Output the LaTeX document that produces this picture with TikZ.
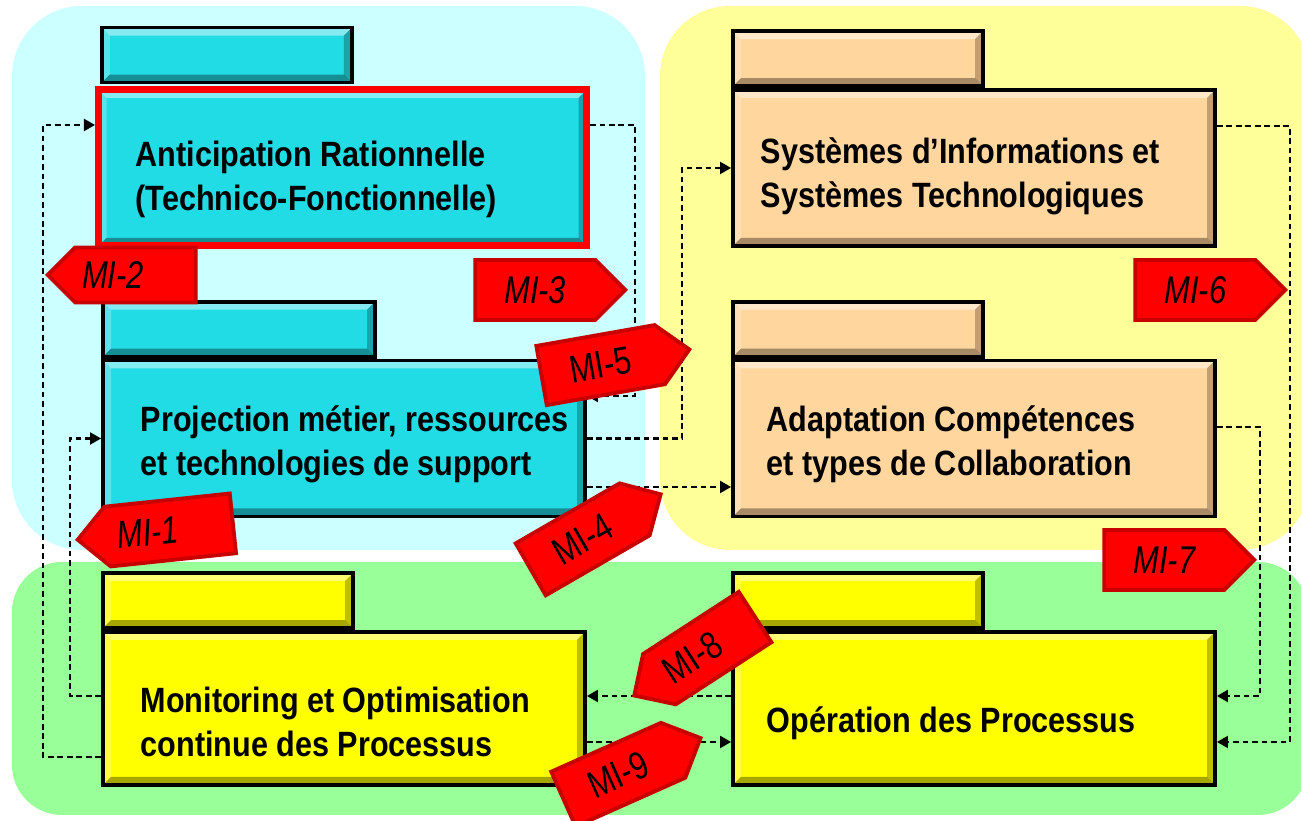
\documentclass[tikz,border=0pt]{standalone}
\usepackage{fontspec}
\setmainfont{Liberation Sans}
\newfontfamily\narrowfont{Liberation Sans}[FakeStretch=0.87]
\newfontfamily\mifont{Liberation Sans}[FakeStretch=0.8]
\usetikzlibrary{positioning,shapes.arrows,arrows.meta}
\definecolor{bgCyan}{RGB}{204,255,255}
\definecolor{bgYellow}{RGB}{255,255,153}
\definecolor{bgGreen}{RGB}{153,255,153}
\definecolor{boxCyan}{RGB}{33,220,228}
\definecolor{boxPeach}{RGB}{255,214,158}
\definecolor{boxYellow}{RGB}{255,255,0}
\definecolor{miRed}{RGB}{255,0,0}
\definecolor{miDark}{RGB}{200,0,0}
\begin{document}
\begin{tikzpicture}[
  bevel/.style={path picture={
    \fill[white,opacity=.45] (path picture bounding box.north west) -- (path picture bounding box.north east)
      -- ([shift={(-.8mm,-.8mm)}]path picture bounding box.north east) -- ([shift={(.8mm,-.8mm)}]path picture bounding box.north west) -- cycle;
    \fill[white,opacity=.25] (path picture bounding box.north west) -- (path picture bounding box.south west)
      -- ([shift={(.8mm,.8mm)}]path picture bounding box.south west) -- ([shift={(.8mm,-.8mm)}]path picture bounding box.north west) -- cycle;
    \fill[black,opacity=.35] (path picture bounding box.south west) -- (path picture bounding box.south east)
      -- ([shift={(-.8mm,.8mm)}]path picture bounding box.south east) -- ([shift={(.8mm,.8mm)}]path picture bounding box.south west) -- cycle;
    \fill[black,opacity=.25] (path picture bounding box.north east) -- (path picture bounding box.south east)
      -- ([shift={(-.8mm,.8mm)}]path picture bounding box.south east) -- ([shift={(-.8mm,-.8mm)}]path picture bounding box.north east) -- cycle;}},
  folder/.style={draw=black, line width=1.1pt, minimum width=4.82cm, minimum height=1.56cm, inner sep=0pt, bevel},
  tab/.style={draw=black, line width=1.1pt, minimum width=2.5cm, minimum height=0.55cm, inner sep=0pt, anchor=south west, bevel},
  boxtxt/.style={anchor=west, align=left, inner sep=0pt, font=\narrowfont\bfseries\fontsize{10}{12.5}\selectfont},
  link/.style={dash pattern=on 1.6pt off 1.1pt, line width=0.6pt, -{Triangle[length=1.1mm,width=1.2mm]}},
  mi/.style={single arrow, single arrow head extend=0pt, single arrow tip angle=90, fill=miRed, draw=miDark,
    line width=1.1pt, minimum height=1.5cm, minimum width=0.6cm, inner sep=1pt, anchor=tip,
    font=\mifont\fontsize{11}{12}\selectfont},
  left/.style={shape border rotate=180}
]
\useasboundingbox (0,0) rectangle (13.01,8.21);
\clip (0,0) rectangle (13.01,8.21);

\fill[bgCyan, rounded corners=0.7cm] (0.12,2.71) rectangle (6.45,8.15);
\fill[bgYellow, rounded corners=0.7cm] (6.60,2.71) rectangle (13.10,8.15);
\fill[bgGreen, rounded corners=0.5cm] (0.12,0.06) rectangle (13.08,2.59);

% left column
\node[folder, fill=boxCyan, draw=miRed, line width=2pt, minimum width=4.88cm] (ant) at (3.425,6.53) {};
\node[tab, fill=boxCyan] (antTab) at ([xshift=0.5mm,yshift=0.2mm]ant.north west) {};
\node[boxtxt] (antTxt) at ([xshift=4mm,yshift=-1.1mm]ant.west) {Anticipation Rationnelle\\(Technico-Fonctionnelle)};

\node[folder, fill=boxCyan] (proj) at (3.44,3.825) {};
\node[tab, fill=boxCyan, minimum width=2.72cm] (projTab) at (proj.north west) {};
\node[boxtxt] (projTxt) at ([xshift=3.9mm,yshift=-0.6mm]proj.west) {Projection métier, ressources\\et technologies de support};

\node[folder, fill=boxYellow, minimum height=1.53cm] (moni) at (3.44,1.125) {};
\node[tab, fill=boxYellow] (moniTab) at (moni.north west) {};
\node[boxtxt] (moniTxt) at ([xshift=3.9mm,yshift=-1.35mm]moni.west) {Monitoring et Optimisation\\continue des Processus};

% right column
\node[folder, fill=boxPeach] (sys) at (9.74,6.53) {};
\node[tab, fill=boxPeach] (sysTab) at (sys.north west) {};
\node[boxtxt] (sysTxt) at ([xshift=2.9mm,yshift=-0.8mm]sys.west) {Systèmes d’Informations et\\Systèmes Technologiques};

\node[folder, fill=boxPeach] (adap) at (9.74,3.825) {};
\node[tab, fill=boxPeach] (adapTab) at (adap.north west) {};
\node[boxtxt] (adapTxt) at ([xshift=3.5mm,yshift=-0.6mm]adap.west) {Adaptation Compétences\\et types de Collaboration};

\node[folder, fill=boxYellow, minimum height=1.53cm] (oper) at (9.74,1.125) {};
\node[tab, fill=boxYellow] (operTab) at (oper.north west) {};
\node[boxtxt] (operTxt) at ([xshift=3.5mm,yshift=-1.45mm]oper.west) {Opération des Processus};

% links
\draw[link] ([yshift=-4.85mm]moni.west) -- ++(-0.58,0) |- ([yshift=4.3mm]ant.west);
\draw[link] ([yshift=1.25mm]moni.west) -- ++(-0.31,0) |- (proj.west);
\draw[link] ([yshift=4.3mm]ant.east) -- ++(0.45,0) |- ([yshift=4.25mm]proj.east);
\draw[link] (proj.east) -- ++(0.95,0) |- (sys.west);
\draw[link] ([yshift=-4.85mm]proj.east) -- ([yshift=-4.85mm]adap.west);
\draw[link] ([yshift=4.2mm]sys.east) -- ++(0.73,0) |- ([yshift=-3.35mm]oper.east);
\draw[link] ([yshift=1.15mm]adap.east) -- ++(0.43,0) |- ([yshift=1.25mm]oper.east);
\draw[link] ([yshift=1.25mm]oper.west) -- ([yshift=1.25mm]moni.east);
\draw[link] ([yshift=-3.35mm]moni.east) -- ([yshift=-3.35mm]oper.west);

% MI arrows
\node[mi, left, rotate=6, minimum height=1.56cm] (mi1) at (0.75,2.81) {\itshape MI-1\kern4.5mm};
\node[mi, left, minimum height=1.48cm, minimum width=0.55cm] (mi2) at (0.45,5.46) {\itshape MI-2\kern4.5mm};
\node[mi] (mi3) at (6.28,5.31) {\itshape MI-3};
\node[mi, rotate=30] (mi4) at (6.63,3.28) {MI-4};
\node[mi, rotate=10] (mi5) at (6.92,4.72) {MI-5};
\node[mi] (mi6) at (12.88,5.31) {\itshape MI-6};
\node[mi] (mi7) at (12.57,2.61) {\itshape MI-7};
\node[mi, left, rotate=33, minimum height=1.44cm] (mi8) at (6.32,1.24) {MI-8\kern3.5mm};
\node[mi, rotate=24] (mi9) at (7.03,0.84) {MI-9};
\end{tikzpicture}
\end{document}
